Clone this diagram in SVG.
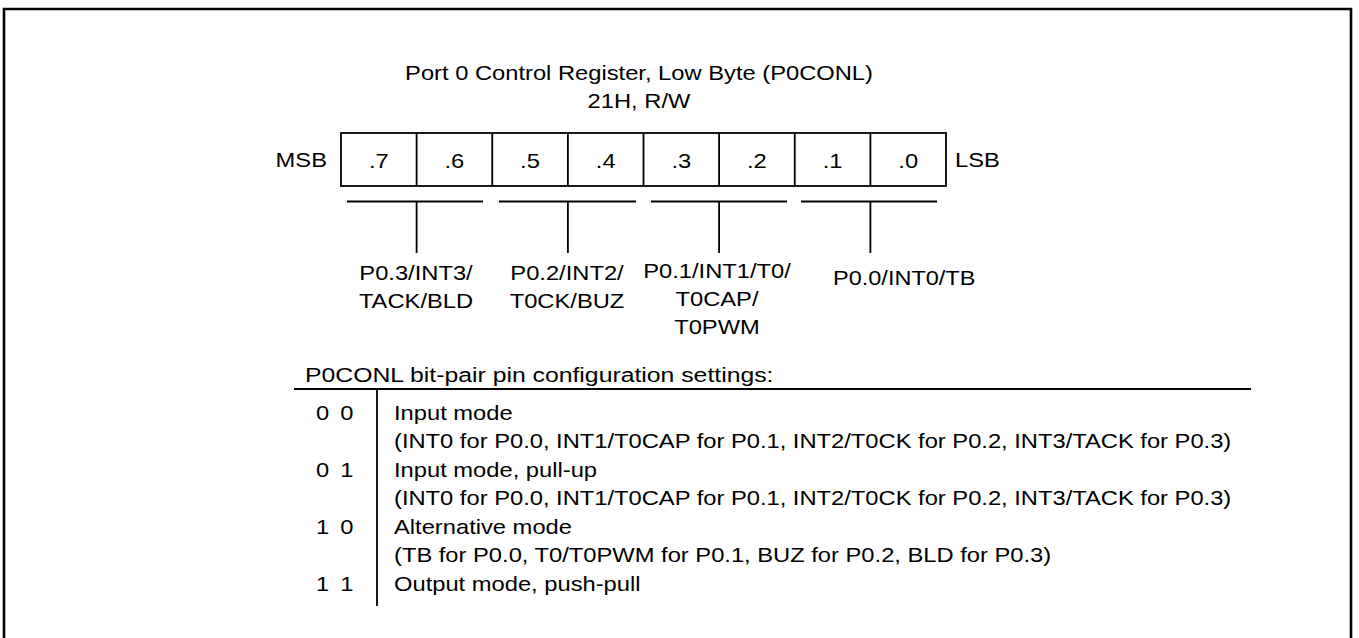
<svg xmlns="http://www.w3.org/2000/svg" width="1359" height="638" viewBox="0 0 1359 638">
<style>
text{font-family:"Liberation Sans",Arial,sans-serif;font-size:21px;fill:#000}
.m{text-anchor:middle}
.e{text-anchor:end}
.b{word-spacing:4px}
.ln{stroke:#000;stroke-width:1.8;fill:none}
</style>
<rect x="0" y="0" width="1359" height="638" fill="#fff"/>
<g id="frame"><path d="M4,640 V9 H1351 V640" fill="none" stroke="#000" stroke-width="2.6"/></g>
<g id="title">
<text class="m" transform="translate(639,80) scale(1.13,1)">Port 0 Control Register, Low Byte (P0CONL)</text>
<text class="m" transform="translate(639,108) scale(1.13,1)">21H, R/W</text>
</g>
<g id="register">
<rect class="ln" x="341" y="133" width="605" height="53"/>
<path class="ln" d="M416.6,133V186M492.25,133V186M567.9,133V186M643.5,133V186M719.1,133V186M794.75,133V186M870.4,133V186"/>
<text class="e" transform="translate(327,167) scale(1.13,1)">MSB</text>
<text transform="translate(955,167) scale(1.13,1)">LSB</text>
<text class="m" transform="translate(378.8,168) scale(1.13,1)">.7</text>
<text class="m" transform="translate(454.4,168) scale(1.13,1)">.6</text>
<text class="m" transform="translate(530,168) scale(1.13,1)">.5</text>
<text class="m" transform="translate(605.7,168) scale(1.13,1)">.4</text>
<text class="m" transform="translate(681.3,168) scale(1.13,1)">.3</text>
<text class="m" transform="translate(756.9,168) scale(1.13,1)">.2</text>
<text class="m" transform="translate(832.6,168) scale(1.13,1)">.1</text>
<text class="m" transform="translate(908.2,168) scale(1.13,1)">.0</text>
</g>
<g id="connectors">
<path class="ln" d="M347,201.5H483M416.6,201.5V253M499,201.5H636M567.9,201.5V253M651,201.5H787M719.1,201.5V253M801,201.5H937M870.4,201.5V253"/>
</g>
<g id="label-p03">
<text class="m" transform="translate(416,280) scale(1.13,1)">P0.3/INT3/</text>
<text class="m" transform="translate(416,308) scale(1.13,1)">TACK/BLD</text>
</g>
<g id="label-p02">
<text class="m" transform="translate(567,280) scale(1.13,1)">P0.2/INT2/</text>
<text class="m" transform="translate(567,308) scale(1.13,1)">T0CK/BUZ</text>
</g>
<g id="label-p01">
<text class="m" transform="translate(717,278) scale(1.13,1)">P0.1/INT1/T0/</text>
<text class="m" transform="translate(717,306) scale(1.13,1)">T0CAP/</text>
<text class="m" transform="translate(717,334) scale(1.13,1)">T0PWM</text>
</g>
<g id="label-p00">
<text transform="translate(833,285) scale(1.12,1)">P0.0/INT0/TB</text>
</g>
<g id="table">
<text transform="translate(305,382) scale(1.18,1)">P0CONL bit-pair pin configuration settings:</text>
<path class="ln" d="M294,389H1251M377,389V606"/>
<text class="b" transform="translate(316,420) scale(1.13,1)">0 0</text>
<text transform="translate(394,420) scale(1.13,1)">Input mode</text>
<text transform="translate(394,448) scale(1.13,1)">(INT0 for P0.0, INT1/T0CAP for P0.1, INT2/T0CK for P0.2, INT3/TACK for P0.3)</text>
<text class="b" transform="translate(316,477) scale(1.13,1)">0 1</text>
<text transform="translate(394,477) scale(1.13,1)">Input mode, pull-up</text>
<text transform="translate(394,505) scale(1.13,1)">(INT0 for P0.0, INT1/T0CAP for P0.1, INT2/T0CK for P0.2, INT3/TACK for P0.3)</text>
<text class="b" transform="translate(316,534) scale(1.13,1)">1 0</text>
<text transform="translate(394,534) scale(1.13,1)">Alternative mode</text>
<text transform="translate(394,562) scale(1.13,1)">(TB for P0.0, T0/T0PWM for P0.1, BUZ for P0.2, BLD for P0.3)</text>
<text class="b" transform="translate(316,591) scale(1.13,1)">1 1</text>
<text transform="translate(394,591) scale(1.13,1)">Output mode, push-pull</text>
</g>
</svg>
